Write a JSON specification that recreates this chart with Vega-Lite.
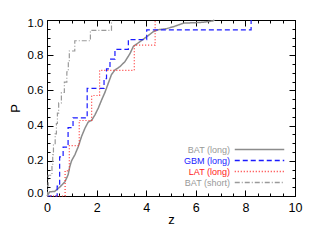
{
  "$schema": "https://vega.github.io/schema/vega-lite/v6.json",
  "autosize": {"type": "none"},
  "width": 248,
  "height": 176,
  "padding": {"left": 47, "top": 20, "right": 38, "bottom": 49},
  "background": "white",
  "config": {
    "view": {"stroke": "black", "strokeWidth": 1},
    "font": "Liberation Sans",
    "axis": {"domainColor": "black", "tickColor": "black", "labelColor": "black", "titleColor": "black", "grid": false, "domainWidth": 1, "tickWidth": 1, "labelFont": "Liberation Sans", "titleFont": "Liberation Sans", "titleFontWeight": "normal"}
  },
  "data": {"values": [
    {"series": "BAT (long)", "z": 0, "P": 0},
    {"series": "BAT (long)", "z": 0.05, "P": 0.01},
    {"series": "BAT (long)", "z": 0.11, "P": 0.024},
    {"series": "BAT (long)", "z": 0.31, "P": 0.026},
    {"series": "BAT (long)", "z": 0.51, "P": 0.05},
    {"series": "BAT (long)", "z": 0.72, "P": 0.08},
    {"series": "BAT (long)", "z": 0.85, "P": 0.12},
    {"series": "BAT (long)", "z": 0.92, "P": 0.167},
    {"series": "BAT (long)", "z": 0.99, "P": 0.2},
    {"series": "BAT (long)", "z": 1.12, "P": 0.233},
    {"series": "BAT (long)", "z": 1.26, "P": 0.28},
    {"series": "BAT (long)", "z": 1.39, "P": 0.337},
    {"series": "BAT (long)", "z": 1.53, "P": 0.385},
    {"series": "BAT (long)", "z": 1.66, "P": 0.42},
    {"series": "BAT (long)", "z": 1.8, "P": 0.43},
    {"series": "BAT (long)", "z": 1.93, "P": 0.46},
    {"series": "BAT (long)", "z": 2.07, "P": 0.5},
    {"series": "BAT (long)", "z": 2.2, "P": 0.545},
    {"series": "BAT (long)", "z": 2.34, "P": 0.59},
    {"series": "BAT (long)", "z": 2.47, "P": 0.64},
    {"series": "BAT (long)", "z": 2.6, "P": 0.69},
    {"series": "BAT (long)", "z": 2.74, "P": 0.716},
    {"series": "BAT (long)", "z": 2.94, "P": 0.735},
    {"series": "BAT (long)", "z": 3.14, "P": 0.763},
    {"series": "BAT (long)", "z": 3.35, "P": 0.81},
    {"series": "BAT (long)", "z": 3.48, "P": 0.85},
    {"series": "BAT (long)", "z": 3.75, "P": 0.877},
    {"series": "BAT (long)", "z": 4.02, "P": 0.905},
    {"series": "BAT (long)", "z": 4.29, "P": 0.934},
    {"series": "BAT (long)", "z": 4.49, "P": 0.945},
    {"series": "BAT (long)", "z": 4.8, "P": 0.95},
    {"series": "BAT (long)", "z": 5.1, "P": 0.962},
    {"series": "BAT (long)", "z": 5.5, "P": 0.982},
    {"series": "BAT (long)", "z": 6.3, "P": 0.987},
    {"series": "BAT (long)", "z": 6.7, "P": 0.995},
    {"series": "BAT (long)", "z": 6.75, "P": 1.0},
    {"series": "GBM (long)", "z": 0, "P": 0},
    {"series": "GBM (long)", "z": 0.41, "P": 0.056},
    {"series": "GBM (long)", "z": 0.51, "P": 0.222},
    {"series": "GBM (long)", "z": 0.65, "P": 0.278},
    {"series": "GBM (long)", "z": 0.85, "P": 0.389},
    {"series": "GBM (long)", "z": 1.05, "P": 0.444},
    {"series": "GBM (long)", "z": 1.62, "P": 0.611},
    {"series": "GBM (long)", "z": 2.3, "P": 0.667},
    {"series": "GBM (long)", "z": 2.4, "P": 0.722},
    {"series": "GBM (long)", "z": 2.54, "P": 0.778},
    {"series": "GBM (long)", "z": 2.74, "P": 0.833},
    {"series": "GBM (long)", "z": 3.28, "P": 0.889},
    {"series": "GBM (long)", "z": 4.02, "P": 0.944},
    {"series": "GBM (long)", "z": 8.23, "P": 1.0},
    {"series": "LAT (long)", "z": 0, "P": 0},
    {"series": "LAT (long)", "z": 0.73, "P": 0.143},
    {"series": "LAT (long)", "z": 0.9, "P": 0.286},
    {"series": "LAT (long)", "z": 1.3, "P": 0.429},
    {"series": "LAT (long)", "z": 1.8, "P": 0.571},
    {"series": "LAT (long)", "z": 2.12, "P": 0.714},
    {"series": "LAT (long)", "z": 3.52, "P": 0.857},
    {"series": "LAT (long)", "z": 4.36, "P": 1.0},
    {"series": "BAT (short)", "z": 0, "P": 0},
    {"series": "BAT (short)", "z": 0.03, "P": 0.059},
    {"series": "BAT (short)", "z": 0.05, "P": 0.118},
    {"series": "BAT (short)", "z": 0.2, "P": 0.176},
    {"series": "BAT (short)", "z": 0.23, "P": 0.235},
    {"series": "BAT (short)", "z": 0.26, "P": 0.294},
    {"series": "BAT (short)", "z": 0.33, "P": 0.353},
    {"series": "BAT (short)", "z": 0.38, "P": 0.412},
    {"series": "BAT (short)", "z": 0.42, "P": 0.471},
    {"series": "BAT (short)", "z": 0.47, "P": 0.529},
    {"series": "BAT (short)", "z": 0.58, "P": 0.588},
    {"series": "BAT (short)", "z": 0.7, "P": 0.647},
    {"series": "BAT (short)", "z": 0.8, "P": 0.706},
    {"series": "BAT (short)", "z": 0.86, "P": 0.765},
    {"series": "BAT (short)", "z": 0.9, "P": 0.824},
    {"series": "BAT (short)", "z": 1.12, "P": 0.882},
    {"series": "BAT (short)", "z": 1.75, "P": 0.941},
    {"series": "BAT (short)", "z": 2.6, "P": 1.0}
  ]},
  "encoding": {
    "color": {"field": "series", "type": "nominal",
      "scale": {"domain": ["BAT (long)", "GBM (long)", "LAT (long)", "BAT (short)"], "range": ["#8c8c8c", "#1a1aff", "#ff3333", "#9a9a9a"]},
      "legend": {"orient": "bottom-right", "offset": 8, "title": null, "symbolType": "M-5.5,0H5.5", "symbolSize": 81, "symbolStrokeWidth": 1.3, "labelFont": "Liberation Sans", "labelFontSize": 9, "labelAlign": "right", "labelOffset": -35, "rowPadding": 0, "padding": 0,
        "encode": {"labels": {"update": {"fill": {"signal": "datum.value === 'GBM (long)' ? '#1a1aff' : datum.value === 'LAT (long)' ? '#ff2020' : '#999999'"}}}}}
    },
    "strokeDash": {"field": "series", "type": "nominal",
      "scale": {"domain": ["BAT (long)", "GBM (long)", "LAT (long)", "BAT (short)"], "range": [[1, 0], [5, 3], [1, 2], [5, 2, 1, 2]]},
      "legend": {"orient": "bottom-right", "offset": 8, "title": null}
    }
  },
  "layer": [
    {
      "transform": [{"filter": "datum.series === 'BAT (long)'"}],
      "mark": {"type": "line", "interpolate": "linear", "strokeWidth": 1.5},
      "encoding": {
        "x": {"field": "z", "type": "quantitative", "scale": {"domain": [0, 10], "nice": false, "zero": false},
          "axis": {"orient": "bottom", "values": [0,0.5,1,1.5,2,2.5,3,3.5,4,4.5,5,5.5,6,6.5,7,7.5,8,8.5,9,9.5,10],
            "labelExpr": "datum.value % 2 === 0 ? format(datum.value, 'd') : ''",
            "tickSize": {"condition": {"test": "datum.value % 2 === 0", "value": -6}, "value": -3},
            "labelPadding": 11, "labelFontSize": 12.5, "labelFlush": false, "labelOverlap": false,
            "title": "z", "titleFontSize": 13, "titleX": 124, "titleY": 27, "titleBaseline": "alphabetic"}},
        "y": {"field": "P", "type": "quantitative", "scale": {"domain": [0, 1], "nice": false, "zero": false},
          "axis": {"orient": "left", "values": [0,0.05,0.1,0.15,0.2,0.25,0.3,0.35,0.4,0.45,0.5,0.55,0.6,0.65,0.7,0.75,0.8,0.85,0.9,0.95,1],
            "labelExpr": "abs(datum.value*5 - round(datum.value*5)) < 0.0001 ? format(datum.value, '.1f') : ''",
            "tickSize": {"condition": {"test": "abs(datum.value*5 - round(datum.value*5)) < 0.0001", "value": -6}, "value": -3},
            "labelOffset": {"condition": [{"test": "datum.value === 0", "value": -3}, {"test": "datum.value === 1", "value": 3}], "value": 0},
            "labelBaseline": "middle",
            "labelPadding": 10, "labelFontSize": 11.5, "labelFlush": false, "labelOverlap": false,
            "title": "P", "titleFontSize": 13, "titleX": -32, "titleY": 88, "titleAngle": -90, "titleBaseline": "middle"}}
      }
    },
    {
      "transform": [{"filter": "datum.series !== 'BAT (long)'"}],
      "mark": {"type": "line", "interpolate": "step-after", "strokeWidth": 1.2},
      "encoding": {
        "x": {"field": "z", "type": "quantitative", "scale": {"domain": [0, 10], "nice": false, "zero": false},
          "axis": {"orient": "top", "values": [0,0.5,1,1.5,2,2.5,3,3.5,4,4.5,5,5.5,6,6.5,7,7.5,8,8.5,9,9.5,10], "labels": false, "title": null, "domain": true,
            "tickSize": {"condition": {"test": "datum.value % 2 === 0", "value": -6}, "value": -3}}},
        "y": {"field": "P", "type": "quantitative", "scale": {"domain": [0, 1], "nice": false, "zero": false},
          "axis": {"orient": "right", "values": [0,0.05,0.1,0.15,0.2,0.25,0.3,0.35,0.4,0.45,0.5,0.55,0.6,0.65,0.7,0.75,0.8,0.85,0.9,0.95,1], "labels": false, "title": null, "domain": true,
            "tickSize": {"condition": {"test": "abs(datum.value*5 - round(datum.value*5)) < 0.0001", "value": -6}, "value": -3}}}
      }
    }
  ],
  "resolve": {"axis": {"x": "independent", "y": "independent"}, "scale": {"x": "shared", "y": "shared"}}
}
